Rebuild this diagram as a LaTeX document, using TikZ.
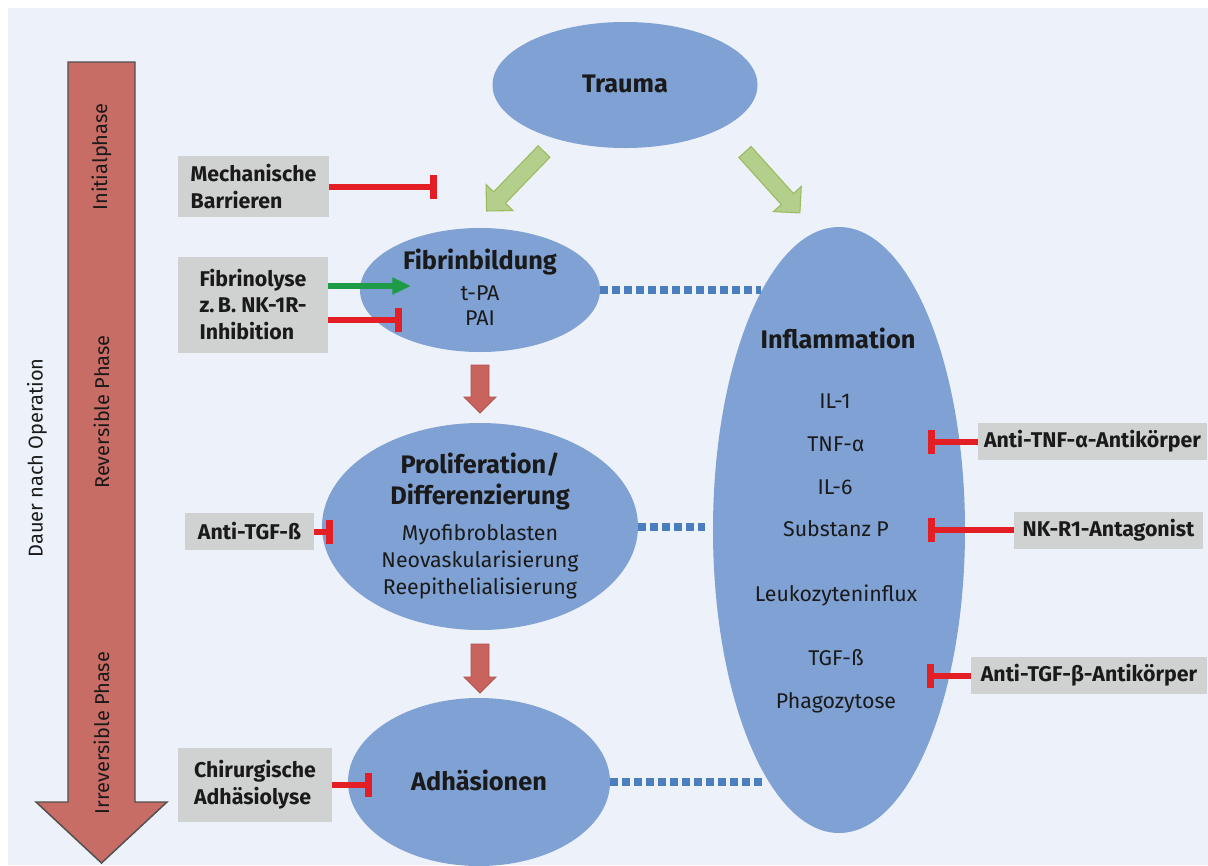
\documentclass[tikz,border=0pt]{standalone}
\usepackage{fontspec}
\setmainfont{Fira Sans}
\usetikzlibrary{arrows.meta,calc,shapes.geometric}
\definecolor{bgc}{HTML}{EDF1F9}
\definecolor{ellc}{HTML}{7FA1D3}
\definecolor{boxc}{HTML}{D0D2D1}
\definecolor{inhc}{HTML}{E31E25}
\definecolor{actc}{HTML}{1E9B47}
\definecolor{dotc}{HTML}{4A7EBE}
\definecolor{grnf}{HTML}{B4CE8B}
\definecolor{grnd}{HTML}{9CBB5E}
\definecolor{redf}{HTML}{C8635D}
\definecolor{redd}{HTML}{B5534E}
\definecolor{bigf}{HTML}{C86C66}
\definecolor{bigd}{HTML}{505050}
\definecolor{txt}{HTML}{1A1A1A}
\newcommand{\blockarr}[7]{%
  \begin{scope}[shift={#2},rotate=#3]
    \draw[#1] (0,-#5) -- ({#4-#7},-#5) -- ({#4-#7},-#6) -- (#4,0) -- ({#4-#7},#6) -- ({#4-#7},#5) -- (0,#5) -- cycle;
  \end{scope}}
\tikzset{
  ell/.style={ellipse, fill=ellc, draw=none, inner sep=0pt, outer sep=0pt},
  ttl/.style={font=\bfseries\fontsize{19}{22}\selectfont, text=txt, anchor=base, inner sep=0pt},
  bdy/.style={font=\fontsize{16}{19}\selectfont, text=txt, anchor=base, inner sep=0pt},
  gbox/.style={rectangle, fill=boxc, inner sep=0pt, outer sep=0pt, text=txt, font=\bfseries\fontsize{16}{20}\selectfont},
  phase/.style={font=\fontsize{15}{18}\selectfont, text=txt, inner sep=0pt},
  inh/.style={draw=inhc, line width=4.5pt, -{Bar[width=18pt,line width=5pt]}},
  act/.style={draw=actc, line width=4.5pt, -{Triangle[length=14pt,width=12pt]}},
  dotl/.style={draw=dotc, line width=6pt, dash pattern=on 6pt off 3pt},
  grnblk/.style={fill=grnf, draw=grnd, line width=0.8pt},
  redblk/.style={fill=redf, draw=redd, line width=0.6pt},
  bigarr/.style={fill=bigf, draw=bigd, line width=1.1pt}
}
\begin{document}
\begin{tikzpicture}[x=0.75pt,y=-0.75pt]
\useasboundingbox (0,0) rectangle (1208,865);
\fill[white] (0,0) rectangle (1208,865);
\fill[bgc] (8,8) rectangle (1208,865);

% time arrow
\draw[bigarr] (68,62) -- (135,62) -- (135,802) -- (167,802) -- (101.5,863) -- (36,802) -- (68,802) -- cycle;
\node[phase, rotate=90] (p1) at (101.5,157) {Initialphase};
\node[phase, rotate=90] (p2) at (101.5,412) {Reversible Phase};
\node[phase, rotate=90] (p3) at (101.5,733) {Irreversible Phase};
\node[phase, rotate=90] (dauer) at (37,458) {Dauer nach Operation};

% ellipses
\node[ell, minimum width=198.75pt, minimum height=94.5pt] (trauma) at (625,85) {};
\node[ttl] (traumat) at (625,92) {Trauma};

\node[ell, minimum width=180pt, minimum height=93pt] (fib) at (480,290) {};
\node[ttl] (fibt) at (480,269) {Fibrinbildung};
\node[bdy] (tpa) at (480,300) {t-PA};
\node[bdy] (pai) at (480,325) {PAI};

\node[ell, minimum width=237pt, minimum height=155.25pt] (prol) at (480,526.5) {};
\node[ttl] (prolt1) at (480,473) {Proliferation/};
\node[ttl] (prolt2) at (480,504) {Differenzierung};
\node[bdy] (myo) at (480,540) {Myofibroblasten};
\node[bdy] (neo) at (480,567) {Neovaskularisierung};
\node[bdy] (ree) at (480,594) {Reepithelialisierung};

\node[ell, minimum width=196.5pt, minimum height=126pt] (adh) at (479,782) {};
\node[ttl] (adht) at (479,790) {Adhäsionen};

\node[ell, minimum width=189pt, minimum height=454.5pt] (infl) at (839,530) {};
\node[ttl] (inflt) at (838,348) {Inflammation};
\node[bdy] (il1) at (835,408) {IL-1};
\node[bdy] (tnf) at (836,451) {TNF-α};
\node[bdy] (il6) at (835,494) {IL-6};
\node[bdy] (subp) at (836,536) {Substanz P};
\node[bdy] (leuk) at (836,601) {Leukozyteninflux};
\node[bdy] (tgf) at (836,665) {TGF-ß};
\node[bdy] (phag) at (836,708) {Phagozytose};

% block arrows
\blockarr{grnblk}{(544,151.5)}{-134}{82.7}{8.2}{18.75}{18.7}
\blockarr{grnblk}{(745,152)}{-48}{82}{8.2}{18.75}{18.7}
\blockarr{redblk}{($(fib.south)+(0,13)$)}{-90}{48}{9}{16}{16}
\blockarr{redblk}{($(prol.south)+(0,14)$)}{-90}{49}{9}{16}{16}

% dotted links
\draw[dotl] (fib.east) -- (fib.east -| infl.108);
\coordinate (prolend) at (705,526.5);
\draw[dotl] (prol.east) -- (prolend);
\draw[dotl] (adh.east) -- (adh.east -| infl.253);

% grey boxes
\node[gbox, minimum width=113.25pt, minimum height=45.75pt, align=left] (mech) at (253.5,186.5) {Mechanische\\Barrieren};
\node[gbox, minimum width=112.5pt, minimum height=72pt, align=left] (fibl) at (253,304.5) {Fibrinolyse\\z.\,B. NK-1R-\\Inhibition};
\node[gbox, minimum width=96.75pt, minimum height=27.75pt] (atgf) at (249.5,531.5) {Anti-TGF-ß};
\node[gbox, minimum width=115.5pt, minimum height=55.5pt, align=left] (chir) at (255,785) {Chirurgische\\Adhäsiolyse};
\node[gbox, minimum width=171.75pt, minimum height=27.75pt] (atnf) at (1092.5,441.5) {Anti-TNF-α-Antikörper};
\node[gbox, minimum width=141.75pt, minimum height=27.75pt] (nkr) at (1108.5,530) {NK-R1-Antagonist};
\node[gbox, minimum width=177pt, minimum height=27.75pt] (atgfb) at (1089,675.5) {Anti-TGF-β-Antikörper};

% inhibitors / activators
\coordinate (mechend) at (437,186.5);
\draw[inh] (mech.east) -- (mechend);
\coordinate (fibact) at (411,286);
\draw[act] (fibl.east |- fibact) -- (fibact);
\coordinate (fibinh) at (402,320);
\draw[inh] (fibl.east |- fibinh) -- (fibinh);
\coordinate (atgfend) at (333,531.5);
\draw[inh] (atgf.east) -- (atgfend);
\coordinate (chirend) at (372,785);
\draw[inh] (chir.east) -- (chirend);
\coordinate (atnfend) at (928,441.5);
\draw[inh] (atnf.west) -- (atnfend);
\coordinate (nkrend) at (928,530);
\draw[inh] (nkr.west) -- (nkrend);
\coordinate (atgfbend) at (927,675.5);
\draw[inh] (atgfb.west) -- (atgfbend);
\end{tikzpicture}
\end{document}
